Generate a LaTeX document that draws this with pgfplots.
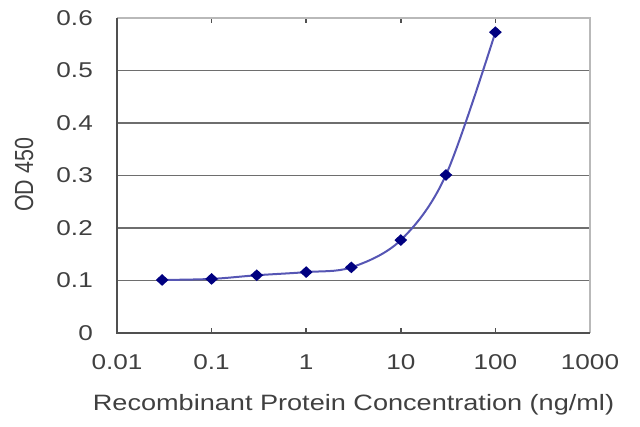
\documentclass[border=0pt]{standalone}
\usepackage{fontspec}
\setmainfont[FakeStretch=1.22]{Liberation Sans}
\newfontfamily\plainfont{Liberation Sans}
\usepackage{graphicx}
\usepackage{pgfplots}
\pgfplotsset{compat=1.18}
\definecolor{txt}{HTML}{404040}
\definecolor{gridc}{HTML}{6E6E6E}
\definecolor{axc}{HTML}{505050}
\definecolor{linec}{HTML}{5656B4}
\definecolor{markc}{HTML}{000080}
\begin{document}
\begin{tikzpicture}
\useasboundingbox (0,0) rectangle (640bp,427bp);
\begin{axis}[
  at={(117bp,94bp)}, anchor=south west,
  scale only axis, width=473bp, height=315bp,
  xmode=log, xmin=0.01, xmax=1000,
  ymin=0, ymax=0.6,
  xtick={0.01,0.1,1,10,100,1000},
  xticklabels={0.01,0.1,1,10,100,1000},
  ytick={0,0.1,0.2,0.3,0.4,0.5,0.6},
  yticklabels={0,0.1,0.2,0.3,0.4,0.5,0.6},
  minor xtick={},
  log basis x=10,
  tick align=inside,
  major tick length=5bp,
  ytick style={draw=none},
  xtick style={draw=axc, line width=1.5bp},
  ymajorgrids, grid style={gridc, line width=1.9bp},
  axis line style={draw=none},
  font=\fontsize{21.5}{24}\selectfont\color{txt},
  /pgf/number format/assume math mode=true,
  xticklabel style={anchor=center, yshift=-29bp, inner sep=0pt},
  yticklabel style={anchor=east, xshift=-24bp, inner sep=0pt},
  xlabel={\fontsize{22.3}{24}\selectfont Recombinant Protein Concentration (ng/ml)},
  xlabel style={at={(axis description cs:0.5,-0.229)}, anchor=center, inner sep=0pt},
  ylabel={\scalebox{1}[1.22]{\plainfont OD 450}},
  ylabel style={at={(axis description cs:-0.1965,0.502)}, anchor=center, rotate=0, inner sep=0pt},
  clip=false,
]
\draw[draw=gray!55, line width=1.8bp] (rel axis cs:0,1) -- (rel axis cs:1,1) -- (rel axis cs:1,0);
\draw[draw=axc, line width=2bp] (rel axis cs:0,1) -- (rel axis cs:0,0) -- (rel axis cs:1,0);
\addplot[color=linec, line width=2bp, smooth, tension=0.55,
  mark=diamond*, mark size=4.5bp, mark options={xscale=1.45, draw=markc, fill=markc, solid}]
  coordinates {
  (0.03,0.101) (0.1,0.103) (0.3,0.110) (1,0.116) (3,0.125)
  (10,0.177) (30,0.301) (100,0.573)
  };
\end{axis}
\end{tikzpicture}
\end{document}
